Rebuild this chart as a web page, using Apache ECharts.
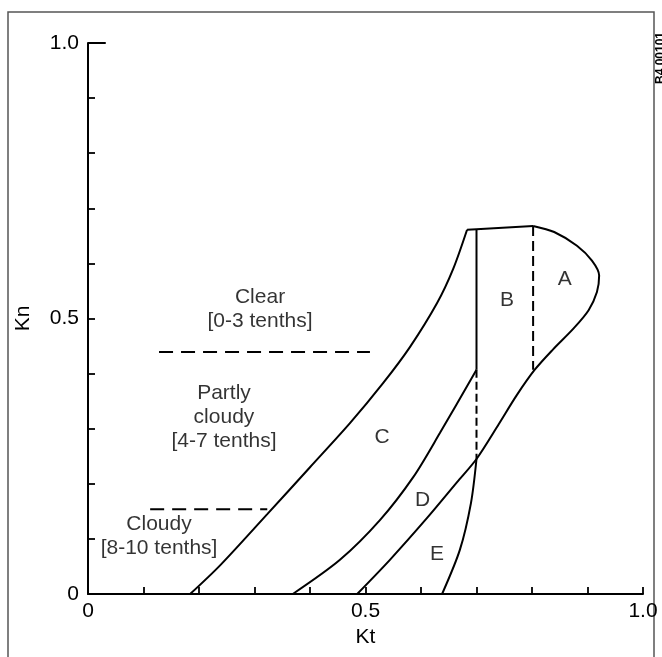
<!DOCTYPE html>
<html>
<head>
<meta charset="utf-8">
<script src="https://cdn.jsdelivr.net/npm/echarts@6/dist/echarts.min.js"></script>
<style>
html,body{margin:0;padding:0;background:#fff;}
#chart{width:662px;height:657px;}
</style>
</head>
<body>
<div id="chart"></div>
<script>
// ---- data (Kt, Kn) ----
const leftBoundary = [[0.184,0],[0.238,0.052],[0.323,0.145],[0.400,0.230],[0.472,0.310],[0.532,0.383],[0.580,0.448],[0.629,0.528],[0.658,0.590],[0.683,0.661]];
const topEdge = [[0.683,0.661],[0.700,0.662],[0.802,0.668]];
const aBoundary = [[0.802,0.668],[0.840,0.657],[0.881,0.632],[0.908,0.605],[0.921,0.578],[0.917,0.548],[0.902,0.515],[0.875,0.482],[0.838,0.444],[0.805,0.407],[0.772,0.360],[0.740,0.308],[0.700,0.245],[0.665,0.203],[0.611,0.138],[0.544,0.062],[0.485,0]];
const cdBoundary = [[0.369,0],[0.454,0.062],[0.526,0.134],[0.586,0.212],[0.634,0.292],[0.700,0.407]];
const eRightBoundary = [[0.638,0],[0.670,0.080],[0.690,0.165],[0.700,0.245]];
const solidVertical07 = [[0.700,0.662],[0.700,0.407]];
const dashedVertical07 = [[0.700,0.407],[0.700,0.245]];
const dashedVertical08 = [[0.802,0.668],[0.802,0.407]];
const clearDivider = [[0.128,0.439],[0.508,0.439]];
const cloudyDivider = [[0.112,0.154],[0.323,0.154]];
const topTick = [[0,1],[0.032,1]];

const regionText = ['Clear\n[0-3 tenths]','Partly\ncloudy\n[4-7 tenths]','Cloudy\n[8-10 tenths]'];
const regionAnchor = [[0.310,0.517],[0.245,0.321],[0.128,0.105]];
const letters = ['A','B','C','D','E'];
const letterAnchor = [[0.859,0.572],[0.755,0.534],[0.530,0.285],[0.603,0.171],[0.629,0.073]];

const tickLabels = {0:'0',0.5:'0.5',1:'1.0'};
const xName = 'Kt', yName = 'Kn';

const FONT = '"Liberation Sans", Arial, sans-serif';
const INK = '#000';

function fmt(v){
  for (const k in tickLabels){ if (Math.abs(v - Number(k)) < 1e-9) return tickLabels[k]; }
  return '';
}
function lineSeries(data, opts){
  opts = opts || {};
  return {type:'line', data:data, symbol:'none', silent:true, animation:false,
    smooth: opts.smooth || false,
    lineStyle:{color:INK, width:2, type: opts.dash || 'solid'}, z:3};
}
const axisCommon = {
  type:'value', min:0, max:1, interval:0.1,
  axisLine:{show:true, lineStyle:{color:INK, width:2}},
  axisTick:{show:true, inside:true, length:7, lineStyle:{color:INK, width:1.8}},
  splitLine:{show:false},
  axisLabel:{formatter:fmt, color:INK, fontFamily:FONT, fontSize:21, showMinLabel:true, showMaxLabel:true},
  nameTextStyle:{color:INK, fontFamily:FONT, fontSize:21},
  nameLocation:'middle'
};

const chart = echarts.init(document.getElementById('chart'), null, {renderer:'canvas'});
chart.setOption({
  backgroundColor:'#fff',
  animation:false,
  grid:{left:88, right:19, top:43, bottom:63, containLabel:false},
  xAxis: Object.assign({}, axisCommon, {name:xName, nameGap:28,
    axisLabel:Object.assign({}, axisCommon.axisLabel, {margin:7})}),
  yAxis: Object.assign({}, axisCommon, {name:yName, nameGap:54, nameRotate:90,
    axisLabel:Object.assign({}, axisCommon.axisLabel, {margin:9})}),
  series:[
    lineSeries(leftBoundary, {smooth:0.3}),
    lineSeries(topEdge),
    lineSeries(aBoundary, {smooth:0.3}),
    lineSeries(cdBoundary, {smooth:0.3}),
    lineSeries(eRightBoundary, {smooth:0.3}),
    lineSeries(solidVertical07),
    lineSeries(dashedVertical07, {dash:[8,4]}),
    lineSeries(dashedVertical08, {dash:[10,5]}),
    lineSeries(clearDivider, {dash:[14,8]}),
    lineSeries(cloudyDivider, {dash:[14,8]}),
    lineSeries(topTick),
    {type:'scatter', symbolSize:0, silent:true, z:5,
      data: regionAnchor.map((p,i)=>({value:p, name:regionText[i]})),
      label:{show:true, position:'inside', formatter:p=>p.name, color:INK, fontFamily:FONT, fontSize:21, lineHeight:24, align:'center'}},
    {type:'scatter', symbolSize:0, silent:true, z:5,
      data: letterAnchor.map((p,i)=>({value:p, name:letters[i]})),
      label:{show:true, position:'inside', formatter:p=>p.name, color:INK, fontFamily:FONT, fontSize:21}}
  ],
  graphic:[
    {type:'rect', shape:{x:8, y:12, width:646, height:670}, style:{fill:'none', stroke:'#555', lineWidth:1.5}, silent:true, z:0},
    {type:'text', x:655, y:84, rotation:Math.PI/2, style:{text:'B4 00101', fill:INK, font:'bold 12px "Liberation Sans"', textAlign:'left', textVerticalAlign:'top'}, silent:true}
  ]
});
</script>
</body>
</html>
